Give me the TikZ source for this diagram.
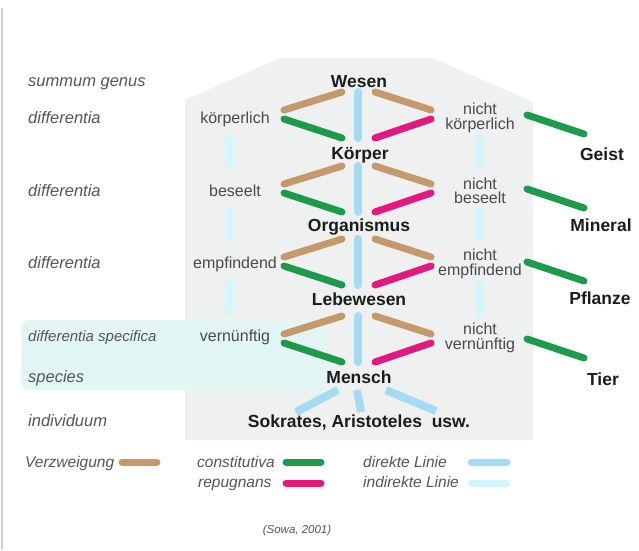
\documentclass[tikz,border=0pt]{standalone}
\usepackage{fontspec}
\setmainfont{Liberation Sans}
\definecolor{labgray}{HTML}{555555}
\definecolor{midgray}{HTML}{4A4A4A}
\definecolor{ink}{HTML}{1C1C1C}
\definecolor{brnch}{HTML}{C49A6C}
\definecolor{grn}{HTML}{1E9A4C}
\definecolor{mag}{HTML}{E3197E}
\definecolor{dblue}{HTML}{A4DAF2}
\definecolor{pcyan}{HTML}{D2F6FB}
\definecolor{panel}{HTML}{EFF0F0}
\definecolor{hilite}{HTML}{E2F6F6}
\definecolor{frame}{HTML}{D0D0D0}
\begin{document}
\begin{tikzpicture}[x=1pt,y=-1pt,
  lvl/.style={font=\fontsize{16.5}{16}\selectfont\itshape, text=labgray, anchor=base west, inner sep=0},
  diff/.style={font=\fontsize{16}{14.5}\selectfont, text=midgray, align=center, inner sep=0},
  concept/.style={font=\fontsize{17.5}{18}\selectfont\bfseries, text=ink, anchor=base, inner sep=0},
  seg/.style={line width=7pt, line cap=round},
  branch/.style={seg, draw=brnch},
  constit/.style={seg, draw=grn},
  repug/.style={seg, draw=mag},
  direct/.style={seg, draw=dblue, line width=8pt},
  indirect/.style={draw=pcyan, line width=8pt},
  member/.style={draw=dblue, line width=8pt},
  legend/.style={font=\fontsize{15.5}{16}\selectfont\itshape, text=labgray, anchor=base west, inner sep=0},
  source/.style={font=\fontsize{11.5}{12}\selectfont\itshape, text=labgray, anchor=base, inner sep=0}
]
\useasboundingbox (0,0) rectangle (639,550);

% frame line on the left
\draw[frame, line width=1.5pt] (2,8) -- (2,550);

% grey panel behind the tree
\fill[panel] (185,100) -- (280,58) -- (433,58) -- (533,102) -- (533,440) -- (185,440) -- cycle;

% highlighted species band
\fill[hilite, rounded corners=8pt] (21,320) rectangle (326,390);

% level names
\node[lvl] (lsg) at (28,86) {summum genus};
\node[lvl] (ld1) at (28,123) {differentia};
\node[lvl] (ld2) at (28,196) {differentia};
\node[lvl] (ld3) at (28,268) {differentia};
\node[lvl, font=\fontsize{15}{16}\selectfont\itshape] (lds) at (28,341) {differentia specifica};
\node[lvl] (lsp) at (28,382) {species};
\node[lvl] (lin) at (28,426) {individuum};

% concepts on the main line
\node[concept] (wesen) at (359,87) {Wesen};
\node[concept] (koerper) at (360,159) {Körper};
\node[concept] (organismus) at (359,231) {Organismus};
\node[concept] (lebewesen) at (359,305) {Lebewesen};
\node[concept] (mensch) at (359,383) {Mensch};
\node[concept] (indiv) at (359,427) {Sokrates, Aristoteles\ \ usw.};

% excluded concepts
\node[concept] (geist) at (602,160) {Geist};
\node[concept] (mineral) at (601,231) {Mineral};
\node[concept] (pflanze) at (600,304) {Pflanze};
\node[concept] (tier) at (603,385) {Tier};

% differentiae
\node[diff, anchor=base] (d1) at (235,123) {körperlich};
\node[diff, anchor=base] (d2) at (235,196) {beseelt};
\node[diff, anchor=base] (d3) at (235,268) {empfindend};
\node[diff, anchor=base] (d4) at (235,341) {vernünftig};
\node[diff] (n1) at (480,118) {nicht\\körperlich};
\node[diff] (n2) at (480,191) {nicht\\beseelt};
\node[diff] (n3) at (480,264) {nicht\\empfindend};
\node[diff] (n4) at (480,338) {nicht\\vernünftig};

% branching segments, one set per level
\foreach \dy [count=\i] in {0,74,147,224} {
  \coordinate (bl\i) at (284,110+\dy);
  \coordinate (gl\i) at (284,119+\dy);
  \coordinate (ul\i) at (342,92+\dy);
  \coordinate (dl\i) at (342,138+\dy);
  \coordinate (ur\i) at (375,92+\dy);
  \coordinate (dr\i) at (375,138+\dy);
  \coordinate (br\i) at (431,110+\dy);
  \coordinate (mr\i) at (431,119+\dy);
  \coordinate (vt\i) at (358,92+\dy);
  \coordinate (vb\i) at (358,138+\dy);
  \coordinate (ea\i) at (527,115+\dy);
  \coordinate (eb\i) at (584,134+\dy);
  \draw[branch] (bl\i) -- (ul\i);
  \draw[branch] (ur\i) -- (br\i);
  \draw[constit] (gl\i) -- (dl\i);
  \draw[repug] (dr\i) -- (mr\i);
  \draw[direct] (vt\i) -- (vb\i);
  \draw[constit] (ea\i) -- (eb\i);
}

% indirect lines between the differentiae
\foreach \dy [count=\i] in {0,73,146} {
  \coordinate (il\i) at (229,135+\dy);
  \coordinate (jl\i) at (229,168+\dy);
  \coordinate (ir\i) at (479,135+\dy);
  \coordinate (jr\i) at (479,168+\dy);
  \draw[indirect] (il\i) -- (jl\i);
  \draw[indirect] (ir\i) -- (jr\i);
}

% species to individuals
\coordinate (m1) at (338,390);
\coordinate (m2) at (357,390);
\coordinate (m3) at (386,390);
\coordinate (s1) at (296,412);
\coordinate (s2) at (361,412);
\coordinate (s3) at (436,411);
\draw[member] (m1) -- (s1);
\draw[member] (m2) -- (s2);
\draw[member] (m3) -- (s3);

% legend
\node[legend] (lg1) at (25,467) {Verzweigung};
\node[legend] (lg2) at (197,467) {constitutiva};
\node[legend] (lg3) at (198,487) {repugnans};
\node[legend] (lg4) at (363,467) {direkte Linie};
\node[legend] (lg5) at (363,487) {indirekte Linie};
\coordinate (k1a) at (122,462); \coordinate (k1b) at (157,462);
\coordinate (k2a) at (286,462); \coordinate (k2b) at (321,462);
\coordinate (k3a) at (286,483); \coordinate (k3b) at (321,483);
\coordinate (k4a) at (471,462); \coordinate (k4b) at (507,462);
\coordinate (k5a) at (471,483); \coordinate (k5b) at (507,483);
\draw[branch] (k1a) -- (k1b);
\draw[constit] (k2a) -- (k2b);
\draw[repug] (k3a) -- (k3b);
\draw[direct, line width=7pt] (k4a) -- (k4b);
\draw[seg, draw=pcyan] (k5a) -- (k5b);

\node[source] (src) at (297,533) {(Sowa, 2001)};
\end{tikzpicture}
\end{document}
